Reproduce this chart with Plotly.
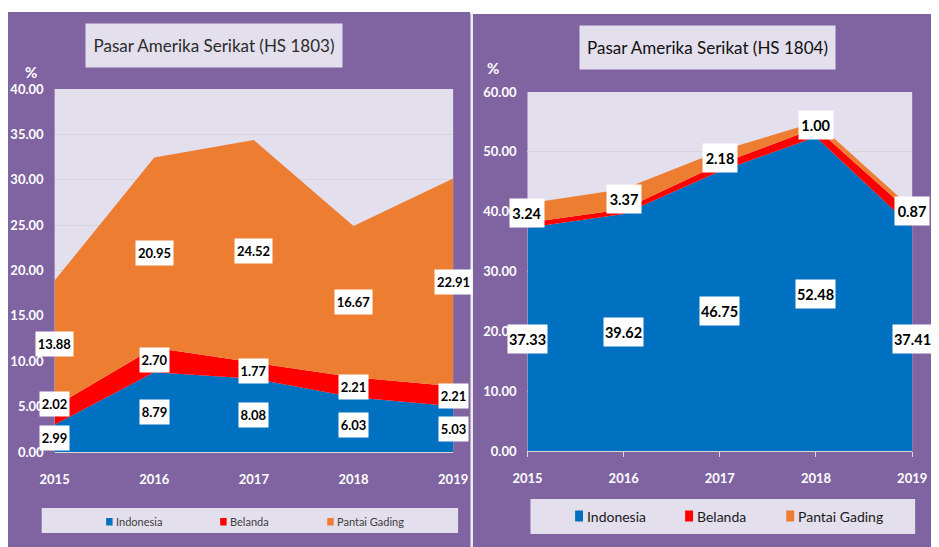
import plotly.graph_objects as go

# ---------------- data ----------------
years = [2015, 2016, 2017, 2018, 2019]
year_labels = ["2015", "2016", "2017", "2018", "2019"]
series_names = ["Indonesia", "Belanda", "Pantai Gading"]

hs1803_indonesia = [2.99, 8.79, 8.08, 6.03, 5.03]
hs1803_belanda = [2.02, 2.70, 1.77, 2.21, 2.21]
hs1803_pantai_gading = [13.88, 20.95, 24.52, 16.67, 22.91]

hs1804_indonesia = [37.33, 39.62, 46.75, 52.48, 37.41]
hs1804_belanda = [0.8, 0.8, 1.2, 1.5, 2.2]          # not labelled in source, estimated
hs1804_pantai_gading = [3.24, 3.37, 2.18, 1.00, 0.87]

y_ticks_1803 = [0, 5, 10, 15, 20, 25, 30, 35, 40]
y_ticks_1804 = [0, 10, 20, 30, 40, 50, 60]

title_1803 = "Pasar Amerika Serikat (HS 1803)"
title_1804 = "Pasar Amerika Serikat (HS 1804)"

# ---------------- style ----------------
# the page body has an 8px margin, so the figure starts at (8, 8) in the window
OFF = 8
W, H = 939 - 2 * OFF, 547 - OFF
REF_W = 939 - OFF           # reference width covered by the figure (slightly compressed)
PURPLE = "#8064A2"
LAVENDER = "#E3DFEC"
COLORS = ["#0070C0", "#FF0000", "#ED7D31"]
FONT = "Lato, Roboto, sans-serif"


def px(x):
    return (x - OFF) / REF_W


def py(y):
    return 1 - (y - OFF) / H


fig = go.Figure()

charts = [
    ("x", "y", [hs1803_indonesia, hs1803_belanda, hs1803_pantai_gading]),
    ("x2", "y2", [hs1804_indonesia, hs1804_belanda, hs1804_pantai_gading]),
]
for xa, ya, series in charts:
    for name, vals, col in zip(series_names, series, COLORS):
        fig.add_trace(go.Scatter(
            x=years, y=vals, name=name, stackgroup=xa, mode="none",
            fillcolor=col, xaxis=xa, yaxis=ya, showlegend=False,
            hoverinfo="skip"))

annotations = []

# data labels (centred on each band), white boxes
label_cfg = [
    ("x", "y", [hs1803_indonesia, hs1803_belanda, hs1803_pantai_gading], [0, 1, 2], 13, 24, (29, 37)),
    ("x2", "y2", [hs1804_indonesia, hs1804_belanda, hs1804_pantai_gading], [0, 2], 14.5, 28, (34, 39)),
]
for xa, ya, series, shown, fsize, bh, bws in label_cfg:
    base = [0.0] * len(years)
    for si, vals in enumerate(series):
        for i, yr in enumerate(years):
            centre = base[i] + vals[i] / 2
            if si in shown:
                txt = f"{vals[i]:.2f}"
                yshift = 0
                if xa == "x" and si == 1 and i == 0:
                    yshift = 12
                annotations.append(dict(
                    x=yr, y=centre, xref=xa, yref=ya, text=txt,
                    xanchor="center", yanchor="middle",
                    showarrow=False, bgcolor="white", borderpad=0, yshift=yshift,
                    width=bws[0] if len(txt) == 4 else bws[1], height=bh,
                    font=dict(family=FONT, size=fsize, color="black", weight="bold")))
        base = [b + v for b, v in zip(base, vals)]

# titles
annotations.append(dict(
    x=px(216), y=py(45.5), xref="paper", yref="paper", text=title_1803,
    xanchor="center", yanchor="middle",
    showarrow=False, bgcolor=LAVENDER, width=254, height=41,
    font=dict(family=FONT, size=17, color="#2b2b2b")))
annotations.append(dict(
    x=px(713.5), y=py(47.5), xref="paper", yref="paper", text=title_1804,
    xanchor="center", yanchor="middle",
    showarrow=False, bgcolor=LAVENDER, width=253, height=41,
    font=dict(family=FONT, size=17, color="#111111")))

# % unit labels
for (ux, uy) in [(31, 72), (497, 68)]:
    annotations.append(dict(x=px(ux), y=py(uy), xref="paper", yref="paper", text="%",
                            xanchor="center", yanchor="middle", showarrow=False,
                            font=dict(family=FONT, size=15, color="white", weight="bold")))

shapes = [
    # white top margin / separator between the two panels
    dict(type="rect", xref="paper", yref="paper", x0=0, x1=1, y0=py(12), y1=1,
         fillcolor="white", line=dict(width=0), layer="below"),
    dict(type="rect", xref="paper", yref="paper", x0=px(474), x1=1, y0=py(14), y1=1,
         fillcolor="white", line=dict(width=0), layer="below"),
    dict(type="rect", xref="paper", yref="paper", x0=px(474.5), x1=px(477), y0=0, y1=py(12),
         fillcolor="#EDEDED", line=dict(width=0), layer="below"),
    # legend boxes
    dict(type="rect", xref="paper", yref="paper", x0=px(42), x1=px(462), y0=py(533), y1=py(508),
         fillcolor=LAVENDER, line=dict(width=0), layer="below"),
    dict(type="rect", xref="paper", yref="paper", x0=px(535), x1=px(923), y0=py(534), y1=py(499),
         fillcolor=LAVENDER, line=dict(width=0), layer="below"),
]

# legends (manual, one per panel)
legend_left = [(107, 115), (222, 230), (330, 338)]
legend_right = [(580, 590), (691, 701), (793, 803)]
for (sx, tx), name, col in zip(legend_left, series_names, COLORS):
    shapes.append(dict(type="rect", xref="paper", yref="paper", x0=px(sx), x1=px(sx + 6.5),
                       y0=py(525.5), y1=py(518), fillcolor=col, line=dict(width=0)))
    annotations.append(dict(x=px(tx), y=py(521.5), xref="paper", yref="paper", text=name,
                            xanchor="left", yanchor="middle", showarrow=False,
                            font=dict(family=FONT, size=11, color="#404040")))
for (sx, tx), name, col in zip(legend_right, series_names, COLORS):
    shapes.append(dict(type="rect", xref="paper", yref="paper", x0=px(sx), x1=px(sx + 8),
                       y0=py(521.5), y1=py(510.5), fillcolor=col, line=dict(width=0)))
    annotations.append(dict(x=px(tx), y=py(516), xref="paper", yref="paper", text=name,
                            xanchor="left", yanchor="middle", showarrow=False,
                            font=dict(family=FONT, size=14, color="#1a1a1a")))

tickfont = dict(family=FONT, size=13, color="white", weight="bold")

fig.update_layout(
    width=W, height=H, autosize=False,
    margin=dict(l=0, r=0, t=0, b=0, pad=0, autoexpand=False),
    paper_bgcolor=PURPLE,
    plot_bgcolor=LAVENDER,
    showlegend=False,
    annotations=annotations,
    shapes=shapes,
    xaxis=dict(domain=[px(55), px(457)], anchor="y", range=[2015, 2019],
               tickvals=years, ticktext=year_labels, tickfont=tickfont,
               showgrid=False, zeroline=False, showline=True, linecolor="#D9D9D9",
               ticklabelstandoff=15, automargin=False),
    yaxis=dict(domain=[py(452), py(89)], anchor="x", range=[0, 40],
               tickvals=y_ticks_1803, tickformat=".2f", tickfont=tickfont,
               showgrid=True, gridcolor="#D6D3DD", zeroline=False,
               ticklabelstandoff=10, automargin=False),
    xaxis2=dict(domain=[px(532), px(920)], anchor="y2", range=[2015, 2019],
                tickvals=years, ticktext=year_labels, tickfont=tickfont,
                showgrid=False, zeroline=False, showline=True, linecolor="#D9D9D9",
                ticks="outside", ticklen=5, tickcolor="#D9D9D9",
                ticklabelstandoff=10, automargin=False),
    yaxis2=dict(domain=[py(451), py(92)], anchor="x2", range=[0, 60],
                tickvals=y_ticks_1804, tickformat=".2f", tickfont=tickfont,
                showgrid=True, gridcolor="#D6D3DD", zeroline=False,
                ticklabelstandoff=10, automargin=False),
)

fig.write_html("out.html")
